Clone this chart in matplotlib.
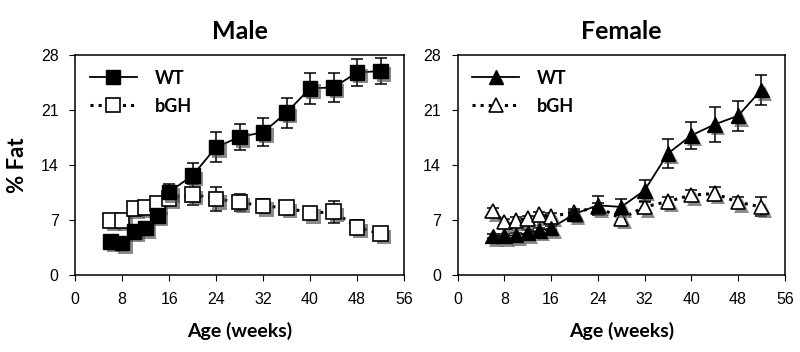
import matplotlib.pyplot as plt
import matplotlib.patheffects as pe
from matplotlib.lines import Line2D

# Age in weeks (same for all series)
weeks = [6, 8, 10, 12, 14, 16, 20, 24, 28, 32, 36, 40, 44, 48, 52]

# Male % fat
male_wt = [4.3, 4.1, 5.6, 6.0, 7.6, 10.6, 12.7, 16.3, 17.6, 18.2, 20.7, 23.8, 23.9, 25.8, 26.0]
male_wt_err = [0.4, 0.4, 0.4, 0.4, 0.5, 1.0, 1.6, 1.9, 1.6, 1.8, 1.9, 2.0, 1.8, 1.7, 1.7]
male_bgh = [7.0, 7.0, 8.5, 8.6, 9.1, 9.8, 10.3, 9.7, 9.3, 8.8, 8.6, 7.9, 8.1, 6.1, 5.3]
male_bgh_err = [0.3, 0.3, 0.4, 0.4, 0.4, 0.5, 1.3, 1.5, 1.1, 0.9, 0.7, 0.8, 1.4, 0.9, 0.3]

# Female % fat
female_wt = [5.0, 5.0, 5.1, 5.4, 5.7, 6.0, 7.8, 8.9, 8.7, 10.8, 15.5, 17.8, 19.2, 20.3, 23.6]
female_wt_err = [0.3, 0.3, 0.3, 0.3, 0.3, 0.3, 0.4, 1.2, 1.0, 1.3, 1.9, 1.7, 2.2, 1.9, 1.9]
female_bgh = [8.2, 6.8, 7.0, 7.2, 7.7, 7.5, 8.0, 8.7, 7.2, 8.7, 9.4, 10.2, 10.4, 9.3, 8.7]
female_bgh_err = [0.4, 0.4, 0.4, 0.4, 0.4, 0.4, 0.4, 0.5, 0.5, 0.6, 0.5, 0.6, 0.8, 0.6, 1.2]

xticks = [0, 8, 16, 24, 32, 40, 48, 56]
yticks = [0, 7, 14, 21, 28]

label_font = 'Lato'
tick_font = 'Liberation Sans'

# drop shadow behind the markers
shadow = [pe.SimplePatchShadow(offset=(2.5, -2.5), shadow_rgbFace='0.3', alpha=0.65), pe.Normal()]


def draw_panel(ax, wt, wt_err, bgh, bgh_err, marker, title):
    ms = 10.5
    # error bars
    ax.errorbar(weeks, bgh, yerr=bgh_err, fmt='none', ecolor='black', elinewidth=1.1,
                capsize=4, capthick=1.1, zorder=2)
    ax.errorbar(weeks, wt, yerr=wt_err, fmt='none', ecolor='black', elinewidth=1.1,
                capsize=4, capthick=1.1, zorder=3)
    # connecting lines
    ax.plot(weeks, wt, color='black', linestyle='-', linewidth=1.3, zorder=3)
    ax.plot(weeks, bgh, color='black', linestyle=':', linewidth=2.2, zorder=2)
    # markers with shadow
    ax.plot(weeks, bgh, linestyle='none', marker=marker, markersize=ms,
            markerfacecolor='white', markeredgecolor='black', markeredgewidth=1.2,
            zorder=4, path_effects=shadow)
    ax.plot(weeks, wt, linestyle='none', marker=marker, markersize=ms,
            markerfacecolor='black', markeredgecolor='black',
            zorder=5, path_effects=shadow)

    ax.set_xlim(0, 56)
    ax.set_ylim(0, 28)
    ax.set_xticks(xticks)
    ax.set_yticks(yticks)
    ax.tick_params(axis='both', direction='out', length=4, labelsize=11.5, pad=8)
    for lbl in ax.get_xticklabels() + ax.get_yticklabels():
        lbl.set_fontfamily(tick_font)
    for s in ax.spines.values():
        s.set_linewidth(1.1)
    ax.set_title(title, fontsize=18, fontweight='bold', family=label_font, pad=12)
    ax.set_xlabel('Age (weeks)', fontsize=14, fontweight='bold', family=label_font, labelpad=11)

    handles = [
        Line2D([], [], color='black', linestyle='-', linewidth=1.3, marker=marker,
               markersize=ms, markerfacecolor='black', markeredgecolor='black'),
        Line2D([], [], color='black', linestyle=':', linewidth=2.2, marker=marker,
               markersize=ms, markerfacecolor='white', markeredgecolor='black',
               markeredgewidth=1.2),
    ]
    ax.legend(handles, ['WT', 'bGH'], loc='upper left', frameon=False,
              handlelength=2.6, handletextpad=1.0, borderaxespad=0.4,
              labelspacing=0.6,
              prop={'family': label_font, 'weight': 'bold', 'size': 13})


fig = plt.figure(figsize=(8, 3.52), dpi=100)
ax1 = fig.add_axes([0.094, 0.218, 0.411, 0.625])
ax2 = fig.add_axes([0.572, 0.218, 0.409, 0.625])

draw_panel(ax1, male_wt, male_wt_err, male_bgh, male_bgh_err, 's', 'Male')
draw_panel(ax2, female_wt, female_wt_err, female_bgh, female_bgh_err, '^', 'Female')

ax1.set_ylabel('% Fat', fontsize=16, fontweight='bold', family=label_font, labelpad=9)

fig.savefig('out.png', dpi=100)
